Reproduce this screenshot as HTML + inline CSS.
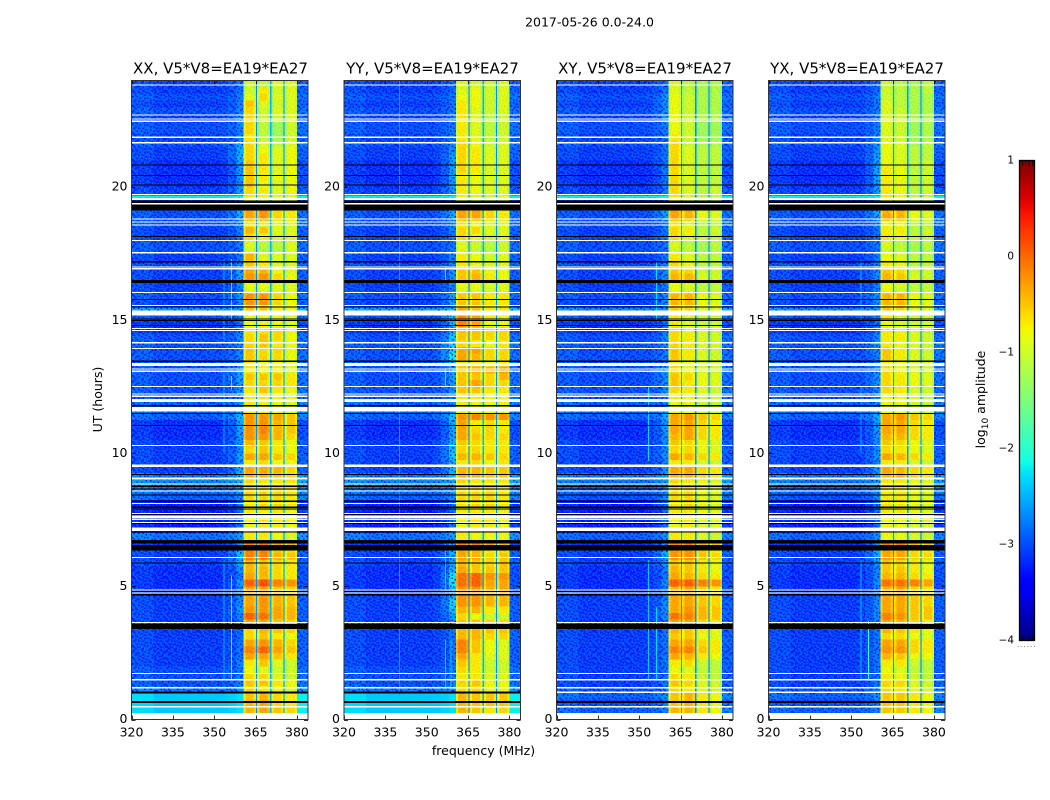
<!DOCTYPE html>
<html lang="en">
<head>
<meta charset="utf-8">
<title>2017-05-26 0.0-24.0 dynamic spectra</title>
<style>
  html,body{margin:0;padding:0;background:#fff;}
  body{width:1050px;height:800px;overflow:hidden;}
  svg{display:block;}
  text{font-family:"DejaVu Sans","Liberation Sans",sans-serif;fill:#000;}
  .tick{font-size:12.5px;}
  .cb{font-size:10.4px;}
  .title{font-size:15px;}
  .label{font-size:12.5px;}
</style>
</head>
<body>
<svg id="figure" xmlns="http://www.w3.org/2000/svg" width="1050" height="800" viewBox="0 0 1050 800">
  <defs id="defs"></defs>
  <rect x="0" y="0" width="1050" height="800" fill="#fff"/>
  <text class="label" x="589.5" y="26.5" text-anchor="middle">2017-05-26 0.0-24.0</text>

  <g id="panel-xx"></g>
  <g id="panel-yy"></g>
  <g id="panel-xy"></g>
  <g id="panel-yx"></g>

  <text class="title" x="220.5" y="73.5" text-anchor="middle">XX, V5*V8=EA19*EA27</text>
  <text class="title" x="432.5" y="73.5" text-anchor="middle">YY, V5*V8=EA19*EA27</text>
  <text class="title" x="645" y="73.5" text-anchor="middle">XY, V5*V8=EA19*EA27</text>
  <text class="title" x="857" y="73.5" text-anchor="middle">YX, V5*V8=EA19*EA27</text>

  <text class="label" transform="translate(102 399.5) rotate(-90)" text-anchor="middle">UT (hours)</text>
  <text class="label" x="483.5" y="755" text-anchor="middle">frequency (MHz)</text>

  <g id="colorbar"></g>
  <text class="label" transform="translate(985 399.5) rotate(-90)" text-anchor="middle">log<tspan font-size="9" dy="3">10</tspan><tspan dy="-3"> amplitude</tspan></text>
</svg>

<script>
// Axis ticks
const freqTicks = [320, 335, 350, 365, 380];
const hourTicks = [0, 5, 10, 15, 20];
const colorbarTicks = [1, 0, -1, -2, -3, -4];
const colorbarTickLabels = ['1', '0', '\u22121', '\u22122', '\u22123', '\u22124'];

// Frequency bands in MHz
const rampEdges = [352, 355, 358, 360.55];
const rampMix = [0.06, 0.25, 0.6];
const backgroundEdges = [320, 328, 336, 344, 352];
const backgroundOffsets = [1, 0, 0, 0];
const blockEdges = [[360.55, 365.1], [365.55, 370.2], [370.7, 375.1], [375.55, 380]];
const gapEdges = [[365.1, 365.55], [370.2, 370.7], [375.1, 375.55]];
const edgeBand = [380, 384];

// log10 amplitude x10, one value per quarter hour, listed from 24h down to 0h
const backgroundParallel = [-31,-31,-30,-31,-30,-31,-30,-30,-31,-30,-31,-31,-32,-32,-32,-32,
-31,-31,-33,-30,-30,-30,-31,-31,-30,-30,-31,-31,-31,-31,-31,-31,
-30,-31,-26,-30,-32,-32,-30,-30,-30,-30,-30,-30,-30,-30,-30,-30,
-29,-29,-29,-32,-32,-32,-31,-31,-31,-31,-31,-28,-27,-28,-29,-33,-33,-32,-33,-33,-28,-32,-31,-31,
-31,-32,-32,-32,-32,-31,-31,-31,-31,-31,-31,-31,-31,-31,-31,-31,-30,-30,-30,-28,-24,-24,-24,-24];
const backgroundCross = [-31,-31,-30,-31,-30,-31,-30,-30,-31,-30,-31,-31,-32,-32,-32,-32,
-31,-31,-33,-30,-30,-30,-31,-31,-30,-30,-31,-31,-31,-31,-31,-31,
-30,-31,-27,-30,-32,-32,-30,-30,-30,-30,-30,-30,-30,-30,-30,-30,
-29,-29,-29,-32,-32,-32,-31,-31,-31,-31,-31,-28,-28,-29,-30,-33,-33,-32,-33,-33,-29,-32,-31,-31,
-31,-32,-32,-32,-32,-31,-31,-31,-31,-31,-31,-31,-31,-31,-31,-31,-31,-31,-31,-30,-29,-30,-29,-30];

const rampXX = [-26,-26,-26,-25,-25,-25,-25,-26,-25,-22,-21,-21,-21,-22,-22,-24,
-22,-24,-26,-21,-22,-25,-25,-26,-26,-27,-26,-25,-22,-22,-24,-25,
-23,-24,-25,-25,-26,-25,-25,-25,-25,-25,-26,-23,-22,-23,-24,-26,
-25,-24,-21,-21,-21,-22,-23,-24,-22,-24,-21,-22,-23,-24,-25,-25,-25,-25,-25,-24,-24,-20,-20,-20,
-21,-23,-25,-22,-25,-24,-24,-23,-25,-26,-27,-27,-26,-26,-26,-25,-26,-26,-26,-25,-22,-22,-22,-22];
const rampYY = [-27,-27,-26,-26,-26,-26,-26,-26,-26,-25,-24,-22,-21,-21,-21,-22,
-22,-25,-26,-21,-22,-25,-25,-25,-26,-26,-25,-25,-23,-23,-24,-25,
-22,-22,-22,-19,-19,-21,-19,-18,-17,-16,-20,-22,-22,-23,-24,-26,
-25,-24,-20,-20,-21,-21,-20,-19,-18,-20,-20,-21,-24,-24,-25,-25,-25,-25,-25,-24,-24,-20,-21,-21,
-22,-19,-15,-15,-19,-20,-17,-19,-22,-24,-25,-26,-26,-26,-26,-26,-26,-26,-26,-25,-22,-22,-22,-22];
const rampXY = [-27,-26,-24,-24,-24,-24,-25,-26,-26,-26,-26,-26,-25,-25,-25,-25,
-25,-25,-26,-22,-23,-26,-26,-26,-26,-27,-26,-26,-24,-24,-25,-25,
-24,-24,-25,-26,-26,-26,-25,-25,-25,-26,-26,-24,-24,-24,-25,-26,
-26,-25,-22,-22,-22,-23,-24,-24,-23,-25,-23,-24,-25,-25,-25,-25,-25,-25,-25,-25,-25,-21,-21,-21,
-23,-24,-25,-23,-25,-25,-24,-24,-24,-25,-26,-26,-26,-26,-26,-26,-26,-26,-26,-26,-25,-26,-26,-26];
const rampYX = [-27,-27,-26,-26,-26,-26,-26,-26,-25,-24,-23,-22,-21,-21,-21,-22,
-22,-25,-26,-22,-23,-26,-26,-26,-26,-27,-26,-26,-24,-24,-25,-25,
-24,-24,-25,-26,-26,-26,-25,-25,-25,-26,-26,-24,-24,-24,-25,-26,
-26,-25,-22,-22,-22,-23,-24,-24,-23,-25,-23,-24,-25,-25,-25,-25,-25,-25,-25,-25,-25,-21,-21,-21,
-23,-24,-24,-23,-25,-25,-24,-24,-24,-25,-26,-26,-26,-26,-26,-26,-26,-26,-26,-26,-25,-26,-26,-26];

const xxBand1 = [-10,-10,-9,-5,-6,-6,-6,-6,-7,-6,-6,-6,-5,-5,-5,-5,
-6,-7,-7,-3,-3,-7,-4,-6,-9,-10,-4,-5,-3,-2,-8,-9,
-2,-2,-5,-8,-8,-7,-6,-6,-5,-5,-7,-7,-5,-6,-7,-7,
-7,-7,-2,-2,-2,-2,-4,-6,-3,-7,-3,-4,-6,-6,-6,-7,-7,-7,-8,-7,-7,-1,-1,-1,
-4,-4,-3,1,-3,-3,-3,-2,1,-3,-6,-6,-3,-1,-3,-7,-8,-6,-5,-6,-5,-4,-4,-4];
const xxBand2 = [-11,-7,-6,-9,-10,-10,-11,-11,-11,-9,-8,-7,-7,-7,-7,-8,
-7,-8,-8,-2,-2,-9,-5,-9,-11,-12,-9,-7,-4,-2,-8,-9,
-2,-2,-5,-8,-8,-7,-5,-5,-6,-6,-8,-8,-5,-6,-5,-7,
-8,-8,-2,-2,-1,-2,-5,-5,-3,-6,-3,-4,-7,-6,-6,-6,-7,-7,-7,-7,-7,0,-1,-1,
-5,-4,-4,2,-3,-2,-2,-2,0,-3,-4,-5,-2,1,-3,-5,-9,-6,-5,-7,-4,-3,-3,-3];
const xxBand3 = [-9,-10,-9,-10,-9,-10,-13,-13,-13,-11,-9,-9,-9,-9,-8,-9,
-9,-9,-9,-6,-6,-9,-9,-10,-11,-12,-9,-9,-8,-6,-9,-9,
-6,-6,-7,-8,-8,-6,-6,-7,-6,-6,-8,-7,-5,-6,-7,-8,
-8,-8,-3,-4,-4,-4,-7,-7,-5,-8,-4,-5,-7,-6,-6,-6,-7,-7,-7,-7,-8,-3,-5,-4,
-6,-6,-6,-1,-5,-4,-4,-3,-3,-5,-5,-7,-4,-3,-5,-9,-10,-9,-7,-8,-6,-6,-5,-5];
const xxBand4 = [-9,-9,-9,-9,-9,-9,-10,-10,-10,-9,-8,-8,-8,-8,-8,-8,
-8,-9,-9,-7,-7,-9,-9,-9,-9,-9,-9,-9,-9,-8,-9,-9,
-8,-8,-8,-9,-9,-8,-8,-8,-8,-8,-9,-9,-7,-7,-8,-9,
-9,-9,-5,-5,-5,-6,-8,-8,-6,-8,-6,-6,-7,-7,-7,-7,-8,-7,-8,-8,-9,-4,-6,-5,
-7,-7,-7,-2,-6,-5,-5,-4,-4,-6,-6,-8,-6,-5,-7,-10,-10,-10,-8,-9,-7,-7,-6,-6];

const yyBand1 = [-9,-9,-8,-7,-7,-7,-7,-7,-7,-6,-6,-6,-6,-6,-7,-7,
-7,-8,-8,-3,-3,-7,-6,-6,-9,-9,-7,-7,-5,-5,-8,-9,
-5,-5,-3,-1,-1,-5,-5,-6,-3,-3,-6,-5,-5,-5,-5,-7,
-7,-7,-2,-3,-3,-3,-5,-6,-4,-7,-4,-4,-6,-6,-6,-7,-7,-7,-8,-7,-7,-1,-3,-3,
-4,-3,0,0,-2,-2,-2,-4,-6,-5,-4,-4,-1,-1,-3,-5,-6,-7,-6,-6,-4,-4,-4,-4];
const yyBand2 = [-10,-8,-8,-8,-9,-9,-9,-9,-9,-8,-7,-7,-7,-7,-8,-8,
-8,-9,-9,-3,-3,-8,-6,-8,-10,-11,-8,-8,-5,-4,-8,-9,
-5,-5,-5,-3,-3,-5,-5,-7,-3,-4,-7,-4,-5,-3,-5,-7,
-8,-8,-1,-7,-6,-5,-6,-6,-4,-6,-4,-4,-7,-6,-6,-6,-7,-7,-7,-7,-8,-1,-4,-4,
-5,-5,1,1,-2,-2,-2,-4,-8,-5,-4,-4,-5,-5,-7,-7,-7,-7,-5,-6,-5,-5,-5,-5];
const yyBand3 = [-10,-10,-10,-10,-10,-11,-11,-11,-11,-10,-9,-9,-9,-9,-9,-9,
-9,-10,-10,-6,-6,-9,-9,-10,-11,-12,-10,-9,-8,-7,-9,-10,
-7,-7,-7,-7,-8,-6,-6,-8,-6,-6,-8,-4,-6,-6,-7,-8,
-8,-8,-2,-6,-6,-6,-7,-7,-5,-8,-5,-5,-7,-6,-6,-6,-7,-7,-7,-7,-8,-3,-7,-6,
-6,-5,-2,-3,-4,-4,-4,-7,-10,-6,-5,-6,-8,-8,-9,-10,-10,-9,-8,-8,-5,-5,-7,-7];
const yyBand4 = [-9,-9,-9,-9,-9,-10,-10,-10,-10,-9,-9,-9,-9,-9,-9,-9,
-9,-9,-9,-7,-7,-9,-9,-9,-10,-10,-9,-9,-8,-8,-9,-9,
-7,-7,-7,-8,-8,-6,-6,-7,-6,-6,-7,-3,-4,-6,-7,-8,
-8,-8,-2,-7,-7,-6,-7,-7,-6,-7,-5,-5,-7,-7,-7,-7,-8,-7,-8,-8,-8,-4,-6,-5,
-5,-5,-2,-3,-3,-4,-4,-7,-10,-6,-5,-6,-9,-9,-9,-10,-10,-9,-8,-8,-5,-5,-6,-6];

const xyBand1 = [-9,-9,-8,-8,-8,-8,-8,-8,-7,-6,-6,-6,-6,-6,-6,-6,
-6,-7,-7,-3,-3,-7,-6,-6,-9,-10,-7,-6,-5,-4,-8,-8,
-4,-4,-5,-7,-7,-6,-6,-6,-5,-5,-7,-6,-5,-5,-6,-7,
-8,-8,-3,-3,-3,-4,-5,-6,-3,-7,-3,-4,-6,-6,-6,-7,-7,-7,-8,-7,-7,-1,-2,-2,
-5,-4,-3,1,-4,-3,-3,-3,0,-3,-4,-5,-3,-1,-3,-7,-8,-6,-5,-6,-5,-5,-4,-4];
const xyBand2 = [-11,-11,-10,-10,-10,-10,-10,-10,-10,-10,-9,-9,-9,-9,-9,-9,
-9,-9,-9,-4,-4,-9,-7,-9,-11,-11,-9,-8,-6,-4,-9,-10,
-4,-4,-6,-9,-9,-8,-7,-7,-7,-7,-8,-8,-6,-7,-7,-8,
-8,-8,-2,-3,-3,-3,-6,-6,-4,-7,-3,-4,-7,-6,-6,-6,-7,-7,-7,-7,-7,-1,-2,-2,
-5,-5,-4,1,-3,-3,-3,-2,-1,-3,-5,-5,-3,-1,-4,-6,-9,-7,-6,-7,-4,-4,-4,-4];
const xyBand3 = [-12,-12,-12,-12,-12,-12,-13,-13,-13,-12,-11,-11,-11,-11,-11,-11,
-11,-11,-11,-8,-8,-11,-11,-11,-12,-13,-11,-11,-10,-9,-11,-11,
-8,-8,-9,-10,-10,-9,-9,-9,-9,-9,-10,-9,-8,-8,-9,-10,
-10,-10,-5,-6,-6,-6,-8,-8,-6,-9,-6,-6,-8,-8,-8,-8,-8,-8,-9,-9,-9,-4,-5,-5,
-7,-7,-6,-1,-6,-5,-5,-4,-4,-6,-7,-8,-6,-5,-7,-10,-11,-10,-9,-9,-7,-7,-7,-7];
const xyBand4 = [-12,-12,-12,-12,-12,-12,-13,-13,-13,-12,-11,-11,-11,-11,-11,-11,
-10,-11,-11,-9,-9,-11,-10,-11,-11,-12,-11,-11,-10,-10,-11,-11,
-9,-9,-9,-10,-10,-10,-10,-10,-10,-10,-10,-10,-9,-9,-10,-11,
-11,-11,-6,-7,-7,-7,-9,-9,-7,-10,-7,-7,-9,-9,-9,-9,-9,-9,-9,-9,-10,-5,-7,-6,
-8,-8,-7,-2,-7,-6,-6,-5,-5,-7,-8,-9,-7,-7,-8,-11,-11,-11,-10,-10,-8,-8,-8,-8];

const yxBand1 = [-10,-10,-10,-9,-9,-9,-9,-9,-9,-8,-8,-8,-8,-7,-7,-7,
-7,-7,-7,-4,-3,-8,-7,-7,-9,-10,-8,-7,-5,-4,-8,-8,
-4,-4,-5,-7,-8,-7,-7,-7,-5,-5,-7,-6,-6,-6,-6,-8,
-8,-8,-3,-3,-3,-4,-5,-6,-3,-7,-3,-4,-7,-7,-7,-7,-7,-7,-8,-7,-8,-1,-3,-3,
-5,-5,-4,0,-4,-3,-3,-3,-1,-3,-4,-6,-3,-2,-4,-7,-8,-7,-6,-6,-5,-5,-5,-5];
const yxBand2 = [-11,-11,-11,-11,-10,-10,-10,-10,-10,-9,-9,-9,-9,-8,-8,-8,
-8,-8,-8,-4,-4,-8,-7,-8,-11,-11,-9,-8,-6,-5,-9,-10,
-4,-4,-6,-9,-9,-8,-7,-8,-7,-7,-8,-8,-7,-7,-7,-8,
-8,-8,-2,-3,-3,-4,-6,-7,-4,-7,-4,-4,-7,-7,-7,-7,-7,-7,-8,-8,-8,-1,-3,-3,
-6,-5,-4,0,-3,-3,-3,-3,-2,-4,-5,-6,-3,-2,-5,-7,-9,-8,-6,-7,-5,-5,-5,-5];
const yxBand3 = [-12,-12,-12,-12,-12,-12,-13,-13,-13,-12,-11,-11,-11,-11,-11,-11,
-11,-11,-11,-8,-8,-11,-11,-11,-12,-13,-11,-11,-10,-9,-11,-11,
-8,-8,-9,-10,-10,-9,-9,-9,-9,-9,-10,-9,-8,-8,-9,-10,
-10,-10,-5,-6,-6,-6,-8,-8,-6,-9,-6,-6,-8,-8,-8,-8,-8,-8,-9,-9,-9,-4,-6,-6,
-7,-7,-6,-1,-6,-5,-5,-5,-5,-6,-7,-8,-6,-6,-8,-10,-11,-10,-9,-9,-7,-7,-7,-7];
const yxBand4 = [-11,-11,-12,-12,-12,-12,-12,-12,-12,-11,-11,-11,-10,-10,-10,-10,
-10,-11,-11,-9,-9,-11,-10,-11,-11,-12,-11,-11,-10,-10,-11,-11,
-9,-9,-9,-10,-10,-10,-10,-10,-10,-10,-10,-10,-9,-9,-10,-11,
-11,-11,-6,-7,-7,-7,-9,-9,-7,-10,-7,-7,-9,-9,-9,-9,-9,-9,-9,-9,-10,-5,-7,-6,
-8,-8,-7,-3,-7,-6,-6,-5,-5,-7,-8,-9,-7,-7,-8,-11,-11,-11,-10,-10,-8,-8,-8,-8];

// Thin channel gaps between the bright blocks, log10 amplitude x10
const gapsXX = [-27, -25, -27];
const gapsYY = [-28, -25, -27];
const gapsXY = [-26, -27, -28];
const gapsYX = [-27, -26, -28];

// Narrow interference lines: [MHz, start hour, end hour, level x10]
const rfiXX = [[353.4,1.5,6,-25],[356,1.5,5.4,-20],[353.4,10,13,-25],[356,12.4,12.9,-21],[353.4,14.2,17.3,-25],[356,15,17.3,-21]];
const rfiYY = [[340,0.9,24,-26],[356.6,1.2,3,-24],[356.6,4.6,6.6,-24],[358.6,1.2,3,-24],[356.6,12.5,13.2,-22],[356.6,16.5,17,-22]];
const rfiXY = [[353.2,1.5,6,-24],[353.2,9.7,12.5,-23],[356,15,17.2,-23],[356,1.5,4.2,-23]];
const rfiYX = [[353.3,1.5,6,-24],[356,1.5,3.7,-20],[353.3,10,12.5,-25],[353.3,15,17.2,-24]];

// Thin bright rows narrower than a quarter hour: [centre hour, width in hours, level x10]
const thinRows = [[19.66,.06,-22]];

// Flagged rows: [centre hour, width in hours]
const whiteFlags = [[23.83,.04],[22.7,.04],[22.55,.04],[22.47,.04],[21.87,.05],[21.66,.05],[19.72,.04],[19.56,.09],[19.37,.04],
[18.8,.04],[18.68,.04],[18.58,.04],[17.99,.04],[17.53,.04],[17,.04],[16.93,.04],[16.03,.04],[15.55,.04],[15.27,.19],
[14.68,.04],[14.61,.04],[14.15,.04],[13.93,.04],[13.33,.12],[13.17,.04],[13.08,.04],[12.5,.04],[12.22,.04],[12.14,.04],
[11.98,.1],[11.65,.16],[10.29,.04],[9.53,.1],[9.05,.07],[8.84,.04],[8.58,.04],[8.11,.04],[7.74,.04],[7.62,.1],[7.52,.04],
[7.4,.04],[7.14,.13],[6.09,.04],[4.86,.04],[4.75,.05],[3.65,.04],[1.73,.04],[1.49,.05],[1.19,.07],[.48,.04],[.125,.25]];
const blackFlags = [[20.83,.04],[20.44,.04],[20.07,.04],[19.45,.1],[19.23,.21],[18.14,.05],[17.2,.06],[16.45,.1],[15.77,.04],
[15.49,.05],[15.05,.04],[14.99,.04],[14.8,.03],[13.46,.06],[11.79,.05],[11.49,.03],[11.05,.03],[9.2,.05],[8.76,.04],[8.65,.04],
[8.43,.05],[8.2,.05],[7.97,.05],[7.9,.04],[7.71,.03],[7.36,.04],[7.04,.05],[6.67,.13],[6.45,.2],[5.88,.05],[4.81,.05],[4.68,.05],
[3.49,.2],[.66,.07]];
const blackFlagsParallel = [[1.01,.07]];
const whiteFlagsCross = [[1.02,.05]];

// Decorative pixel-grain tile for the noise floor (c = bright, d = dark, . = none)
const grainTile = [
'c.d.c..dc.c.d..c.dc.c.',
'.dc..cd.c..d.cd..c.d.c',
'd..c.c..d.c.c..dc..c.d',
'.c.dd.c.c..d.c.c.d.c..',
'c.d..c.d.cc..d.c..c.dc',
'.c.c.d.c..d.c..dc.d..c',
'd.c..c.d.c.c.d...c.c.d',
'.d.cd.c..d..c.cd.c.d..',
'c..c..d.c.cd.c...d.c.c',
'.cd.c.c.d...d.c.c..d.d',
'd..d.c..c.c.c..dd.c.c.',
'.c.c.d.cd.d..c.c..d...',
'c.d..c.c..c.d.d.c.c.c.',
'.d.cd..d.c.c..c.d..d.c',
'c..c.c.c.d..dc.c.c.c..',
'.c.d..d..c.c..d..d.c.d',
'd.c.c.c.d.d.c.c.c...c.',
'.d..d.c.c..c.d.d.c.d..'];

const panels = [
  {id:'xx', left:131.5, bands:[xxBand1,xxBand2,xxBand3,xxBand4], ramp:rampXX, gaps:gapsXX, rfi:rfiXX, bg:backgroundParallel, white:[], black:blackFlagsParallel, grainFloor:1},
  {id:'yy', left:344, bands:[yyBand1,yyBand2,yyBand3,yyBand4], ramp:rampYY, gaps:gapsYY, rfi:rfiYY, bg:backgroundParallel, white:[], black:blackFlagsParallel, grainFloor:1},
  {id:'xy', left:556.5, bands:[xyBand1,xyBand2,xyBand3,xyBand4], ramp:rampXY, gaps:gapsXY, rfi:rfiXY, bg:backgroundCross, white:whiteFlagsCross, black:[], grainFloor:0},
  {id:'yx', left:768.5, bands:[yxBand1,yxBand2,yxBand3,yxBand4], ramp:rampYX, gaps:gapsYX, rfi:rfiYX, bg:backgroundCross, white:whiteFlagsCross, black:[], grainFloor:0}
];

const NS = 'http://www.w3.org/2000/svg';
const plotWidth = 176.5, plotTop = 80.5, plotBottom = 719.5;
const rowHours = 0.25;

function make(tag, attrs, parent) {
  const node = document.createElementNS(NS, tag);
  for (const k in attrs) node.setAttribute(k, attrs[k]);
  parent.appendChild(node);
  return node;
}
function hourToY(h) { return plotBottom - h * (plotBottom - plotTop) / 24; }
function freqToX(panel, f) { return panel.left + (f - 320) * plotWidth / 64; }
function piece(t, pts) {
  for (let i = 1; i < pts.length; i++) {
    if (t <= pts[i][0]) {
      const a = pts[i - 1], b = pts[i];
      return a[1] + (b[1] - a[1]) * (t - a[0]) / (b[0] - a[0]);
    }
  }
  return pts[pts.length - 1][1];
}
function jet(t) {
  t = Math.max(0, Math.min(1, t));
  const r = piece(t, [[0,0],[.35,0],[.66,1],[.89,1],[1,.5]]);
  const g = piece(t, [[0,0],[.125,0],[.375,1],[.64,1],[.91,0],[1,0]]);
  const b = piece(t, [[0,.5],[.11,1],[.34,1],[.65,0],[1,0]]);
  return 'rgb(' + Math.round(r * 255) + ',' + Math.round(g * 255) + ',' + Math.round(b * 255) + ')';
}
function levelColor(level) { return jet((level / 10 + 4) / 5); }

function drawCell(group, panel, f0, f1, row, level) {
  const x0 = freqToX(panel, f0), x1 = freqToX(panel, f1);
  const yTop = hourToY(24 - row * rowHours), yBot = hourToY(24 - (row + 1) * rowHours);
  const cell = make('rect', {x:x0, y:yTop, width:x1 - x0, height:yBot - yTop, fill:levelColor(level)}, group);
  
  
}

// Grain patterns
const defs = document.getElementById('defs');
const grainCell = 1.5;
function buildPattern(id, brightColor, brightAlpha, darkColor, darkAlpha) {
  const pattern = make('pattern', {id:id, patternUnits:'userSpaceOnUse', width:grainCell * grainTile[0].length, height:grainCell * grainTile.length}, defs);
  grainTile.forEach(function (line, r) {
    for (let c = 0; c < line.length; c++) {
      if (line[c] === '.') continue;
      make('rect', {x:c * grainCell, y:r * grainCell, width:grainCell, height:grainCell, 'shape-rendering':'crispEdges',
        fill: line[c] === 'c' ? brightColor : darkColor, 'fill-opacity': line[c] === 'c' ? brightAlpha : darkAlpha}, pattern);
    }
  });
}
buildPattern('grain', 'rgb(0,160,255)', .42, 'rgb(0,0,255)', .8);
buildPattern('block-grain', 'rgb(255,130,0)', .2, 'rgb(170,255,60)', .25);

const blockSplit = [0, .18, .82, 1];
const blockOffsets = [-3, 0, -2];

panels.forEach(function (panel) {
  const root = document.getElementById('panel-' + panel.id);
  const cells = make('g', {'shape-rendering':'crispEdges'}, root);
  
  

  const rows = panel.bg.length;
  for (let r = 0; r < rows; r++) {
    const bg = panel.bg[r];
    for (let k = 0; k < backgroundOffsets.length; k++) {
      drawCell(cells, panel, backgroundEdges[k], backgroundEdges[k + 1], r, bg + backgroundOffsets[k]);
    }
    for (let k = 0; k < rampMix.length; k++) {
      drawCell(cells, panel, rampEdges[k], rampEdges[k + 1], r, bg + rampMix[k] * (panel.ramp[r] - bg));
    }
    blockEdges.forEach(function (edges, b) {
      const span = edges[1] - edges[0];
      for (let k = 0; k < blockOffsets.length; k++) {
        drawCell(cells, panel, edges[0] + span * blockSplit[k], edges[0] + span * blockSplit[k + 1], r, panel.bands[b][r] + blockOffsets[k]);
      }
    });
    drawCell(cells, panel, edgeBand[0], edgeBand[1], r, bg + 2);
  }

  // noise-floor texture
  const grainHeight = hourToY(panel.grainFloor) - plotTop;
  const grainA = make('rect', {x:freqToX(panel, 320), y:plotTop, width:freqToX(panel, 360.55) - freqToX(panel, 320), height:grainHeight, fill:'url(#grain)', 'shape-rendering':'crispEdges'}, root);
  
  
  const grainB = make('rect', {x:freqToX(panel, 380), y:plotTop, width:freqToX(panel, 384) - freqToX(panel, 380), height:grainHeight, fill:'url(#grain)', 'shape-rendering':'crispEdges'}, root);
  
  
  blockEdges.forEach(function (edges) {
    const tex = make('rect', {x:freqToX(panel, edges[0]), y:plotTop, width:freqToX(panel, edges[1]) - freqToX(panel, edges[0]), height:plotBottom - plotTop, fill:'url(#block-grain)', 'shape-rendering':'crispEdges'}, root);
    
    
  });

  // channel gaps, drawn after texture so they stay narrow and clean
  const gapGroup = make('g', {'shape-rendering':'crispEdges'}, root);
  
  
  for (let r = 0; r < rows; r++) {
    gapEdges.forEach(function (edges, g) {
      drawCell(gapGroup, panel, edges[0], edges[1], r, panel.gaps[g]);
    });
  }

  // thin bright rows
  thinRows.forEach(function (row) {
    const y0 = hourToY(row[0] + row[1] / 2), y1 = hourToY(row[0] - row[1] / 2);
    const left = make('rect', {x:freqToX(panel, 320), y:y0, width:freqToX(panel, 360.55) - freqToX(panel, 320), height:y1 - y0, fill:levelColor(row[2]), 'shape-rendering':'crispEdges'}, root);
    
    
    const right = make('rect', {x:freqToX(panel, 380), y:y0, width:freqToX(panel, 384) - freqToX(panel, 380), height:y1 - y0, fill:levelColor(row[2]), 'shape-rendering':'crispEdges'}, root);
    
    
  });

  // interference lines
  panel.rfi.forEach(function (line) {
    const rfi = make('rect', {x:freqToX(panel, line[0]), y:hourToY(line[2]), width:1, height:hourToY(line[1]) - hourToY(line[2]), fill:levelColor(line[3]), 'shape-rendering':'crispEdges'}, root);
    
    
  });

  // flagged rows
  function drawFlags(list, color, name) {
    list.forEach(function (flag) {
      const y0 = hourToY(flag[0] + flag[1] / 2), y1 = hourToY(flag[0] - flag[1] / 2);
      const bar = make('rect', {x:panel.left, y:y0, width:plotWidth, height:Math.max(1, y1 - y0), fill:color, 'shape-rendering':'crispEdges'}, root);
      
      
    });
  }
  drawFlags(whiteFlags, '#fff', 'flagged-row-white');
  drawFlags(panel.white, '#fff', 'flagged-row-white');
  drawFlags(blackFlags, '#000', 'flagged-row-black');
  drawFlags(panel.black, '#000', 'flagged-row-black');

  // ticks
  freqTicks.forEach(function (f) {
    const x = Math.round(freqToX(panel, f)) + .5;
    const tickB = make('line', {x1:x, x2:x, y1:plotBottom, y2:plotBottom - 4, stroke:'#000', 'stroke-width':.8}, root);
    
    
    const tickT = make('line', {x1:x, x2:x, y1:plotTop, y2:plotTop + 4, stroke:'#000', 'stroke-width':.8}, root);
    
    
    const label = make('text', {x:freqToX(panel, f), y:736.5, 'text-anchor':'middle', class:'tick'}, root);
    
    
    label.textContent = String(f);
  });
  hourTicks.forEach(function (h) {
    const y = Math.round(hourToY(h)) + .5;
    const tickL = make('line', {x1:panel.left, x2:panel.left + 4, y1:y, y2:y, stroke:'#000', 'stroke-width':.8}, root);
    
    
    const tickR = make('line', {x1:panel.left + plotWidth, x2:panel.left + plotWidth - 4, y1:y, y2:y, stroke:'#000', 'stroke-width':.8}, root);
    
    
    const label = make('text', {x:panel.left - 4, y:hourToY(h) + 3.7, 'text-anchor':'end', class:'tick'}, root);
    
    
    label.textContent = String(h);
  });

  // frame
  const frame = make('rect', {x:panel.left, y:plotTop, width:plotWidth, height:plotBottom - plotTop, fill:'none', stroke:'#333', 'stroke-width':1}, root);
  
  
});

// Colorbar
const cbLeft = 1019.5, cbRight = 1034.5, cbTop = 160.5, cbBottom = 640.5;
function cbY(v) { return cbBottom - (v + 4) * (cbBottom - cbTop) / 5; }
const cbGroup = document.getElementById('colorbar');
const gradient = make('linearGradient', {id:'jet-gradient', x1:0, y1:1, x2:0, y2:0}, defs);
for (let i = 0; i <= 40; i++) {
  make('stop', {offset:i / 40, 'stop-color':jet(i / 40)}, gradient);
}
const cbRect = make('rect', {x:cbLeft, y:cbTop, width:cbRight - cbLeft, height:cbBottom - cbTop, fill:'url(#jet-gradient)', stroke:'#000', 'stroke-width':1.3}, cbGroup);


colorbarTicks.forEach(function (v, i) {
  const label = make('text', {x:1014, y:cbY(v) + 2.8, 'text-anchor':'end', class:'cb'}, cbGroup);
  
  
  label.textContent = colorbarTickLabels[i];
});
[1022.5, 1025.5, 1029, 1032.5].forEach(function (x) {
  const top = make('line', {x1:x, x2:x, y1:cbTop, y2:cbTop + 5, stroke:'#000', 'stroke-width':.8}, cbGroup);
  
  
  const bottom = make('line', {x1:x, x2:x, y1:cbBottom, y2:cbBottom - 5, stroke:'#000', 'stroke-width':.8}, cbGroup);
  
  
});
[1017.5, 1020.5, 1024, 1027.5, 1030.5, 1034].forEach(function (x) {
  const dot = make('rect', {x:x, y:646, width:1, height:1, fill:'#888'}, cbGroup);
  
  
});
</script>
</body>
</html>
